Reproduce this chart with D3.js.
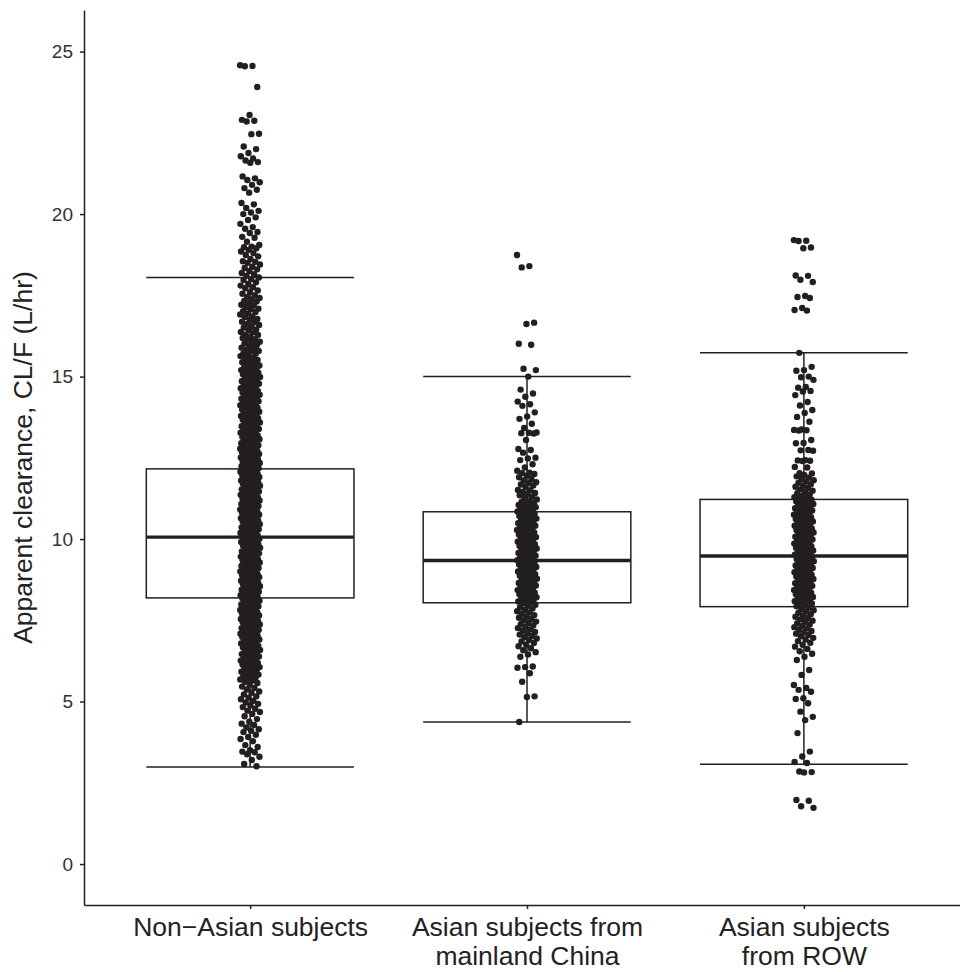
<!DOCTYPE html>
<html>
<head>
<meta charset="utf-8">
<script src="https://cdn.jsdelivr.net/npm/d3@7"></script>
<style>
body { margin: 0; background: #fff; }
svg { display: block; font-family: "Liberation Sans", Arial, sans-serif; }
</style>
</head>
<body>
<svg id="chart" width="960" height="972"></svg>
<script>
var groups = ["nonasian", "china", "row"];
var groupLabels = [["Non\u2212Asian subjects"], ["Asian subjects from", "mainland China"], ["Asian subjects", "from ROW"]];
var yTicks = [0, 5, 10, 15, 20, 25];

// box stats
var whiskerLo = [2.99, 4.37, 3.07];
var q1 = [8.19, 8.04, 7.92];
var medians = [10.06, 9.34, 9.48];
var q3 = [12.16, 10.84, 11.22];
var whiskerHi = [18.05, 15.0, 15.73];

// CL/F per subject (estimated from the jittered points)
var clNonAsian = [
  24.58,24.56,24.55,23.91,23.05,22.90,22.87,22.85,22.47,22.46,22.08,22.00,21.88,21.78,21.71,21.65,21.60,21.58,
  21.16,21.10,21.05,20.98,20.90,20.80,20.75,20.66,20.34,20.30,20.19,20.10,20.05,20.00,19.90,19.82,19.70,19.60,
  19.55,19.45,19.42,19.30,19.27,19.15,19.05,19.00,18.98,18.95,18.90,18.85,18.80,18.74,18.70,18.62,18.55,18.53,
  18.50,18.45,18.38,18.34,18.30,18.25,18.19,18.15,18.10,18.05,18.00,17.97,17.90,17.85,17.80,17.75,17.72,17.65,
  17.60,17.55,17.50,17.45,17.42,
  17.37,17.33,17.31,17.26,17.21,17.19,17.14,17.09,17.07,17.01,16.99,16.94,16.91,16.85,16.83,16.77,16.75,16.69,
  16.67,16.61,16.59,16.54,16.51,16.45,16.43,16.37,16.36,16.29,16.28,16.22,16.19,16.15,16.13,16.07,16.04,16.02,
  15.97,15.95,15.89,15.88,15.82,15.79,15.77,15.71,15.70,15.64,15.63,15.57,15.56,15.51,15.49,15.44,15.41,15.39,
  15.34,15.31,
  15.28,15.26,15.23,15.20,15.18,15.15,15.12,15.10,15.07,15.04,15.02,14.99,14.96,14.94,14.91,14.88,14.86,14.83,
  14.80,14.78,14.75,14.72,14.70,14.67,14.64,14.62,14.59,14.56,14.54,14.51,
  14.49,14.47,14.44,14.42,14.39,14.37,14.34,14.32,14.29,14.27,14.24,14.22,14.19,14.17,14.14,14.12,14.09,14.07,
  14.04,14.02,13.99,13.97,13.94,13.92,13.89,13.87,13.84,13.82,13.79,13.77,13.74,13.72,13.69,13.67,13.64,13.62,
  13.59,13.57,13.54,13.52,13.49,13.47,13.44,13.42,13.39,13.37,13.34,13.32,13.29,13.27,13.24,13.22,13.19,13.17,
  13.14,13.12,13.09,13.07,13.04,13.02,
  12.99,12.97,12.95,12.93,12.90,12.89,12.86,12.84,12.83,12.80,12.78,12.77,12.74,12.72,12.70,12.68,12.66,12.63,
  12.62,12.60,12.57,12.55,12.54,12.51,12.49,12.47,12.45,12.43,12.40,12.39,12.36,12.34,12.33,12.30,12.28,12.26,
  12.24,12.22,12.19,12.18,12.15,12.13,12.12,12.09,12.07,12.05,12.03,12.01,
  11.99,11.97,11.94,11.93,11.91,11.88,11.86,11.85,11.82,11.80,11.78,11.76,11.74,11.71,11.70,11.67,11.65,11.64,
  11.61,11.59,11.57,11.55,11.53,11.50,11.49,11.46,11.44,11.43,11.40,11.38,11.36,11.34,11.32,11.29,11.28,11.25,
  11.23,11.21,11.19,11.17,11.14,11.13,11.10,11.08,11.06,11.04,11.02,11.00,
  10.98,10.96,10.94,10.91,10.90,10.87,10.85,10.83,10.81,10.79,10.76,10.75,10.72,10.70,10.68,10.66,10.64,10.61,
  10.60,10.57,10.55,10.53,10.51,10.49,10.46,10.45,10.42,10.40,10.38,10.36,10.34,10.31,10.30,10.27,10.25,10.23,
  10.21,10.19,10.16,10.15,10.12,10.10,10.08,10.06,10.04,10.01,
  9.99,9.97,9.95,9.92,9.91,9.88,9.86,9.84,9.82,9.80,9.77,9.76,9.73,9.71,9.69,9.67,9.65,9.62,9.61,9.58,9.56,9.54,
  9.52,9.50,9.47,9.46,9.43,9.41,9.39,9.37,9.35,9.32,9.31,9.28,9.26,9.24,9.22,9.20,9.17,9.16,9.13,9.11,9.09,9.07,
  9.05,9.02,9.00,
  8.98,8.96,8.93,8.92,8.89,8.87,8.85,8.83,8.81,8.78,8.77,8.74,8.72,8.70,8.68,8.66,8.63,8.62,8.59,8.57,8.55,8.53,
  8.51,8.48,8.47,8.44,8.42,8.40,8.38,8.36,8.33,8.32,8.29,8.27,8.25,8.23,8.21,8.18,8.17,8.14,8.12,8.10,8.08,8.06,
  8.03,8.02,
  7.99,7.97,7.95,7.93,7.90,7.89,7.86,7.84,7.82,7.80,7.78,7.75,7.74,7.71,7.69,7.67,7.65,7.63,7.60,7.59,7.56,7.54,
  7.52,7.50,7.48,7.45,7.44,7.41,7.39,7.37,7.35,7.33,7.30,7.29,7.26,7.24,7.22,7.20,7.18,7.15,7.14,7.11,7.09,7.07,
  7.05,7.03,7.01,
  6.99,6.96,6.94,6.91,6.89,6.86,6.84,6.81,6.79,6.76,6.74,6.71,6.69,6.66,6.64,6.61,6.59,6.56,6.54,6.51,6.49,6.46,
  6.44,6.41,6.39,6.36,6.34,6.31,6.29,6.26,6.24,6.21,6.19,6.16,6.14,6.11,6.09,6.06,6.04,6.01,
  5.98,5.95,5.92,5.88,5.86,5.83,5.79,5.77,5.74,5.70,5.68,5.65,5.61,
  5.57,5.52,5.46,5.42,5.37,5.31,5.27,5.22,5.16,5.12,5.07,5.02,
  4.97,4.93,4.88,4.83,4.78,4.72,4.68,4.62,4.55,4.46,4.38,4.32,4.28,4.20,4.15,4.10,4.06,3.98,3.91,3.85,3.78,3.66,
  3.60,3.50,3.46,3.44,3.38,3.30,3.20,3.08,3.01
];

var clChina = [
  18.74,18.40,18.36,16.66,16.62,16.01,15.98,15.24,15.20,15.00,14.60,14.48,14.38,14.23,14.15,14.10,13.90,13.77,
  13.70,13.55,13.42,13.28,13.27,13.26,13.25,13.05,12.77,12.74,12.66,12.50,12.48,12.43,12.30,12.20,12.10,12.04,
  12.03,12.00,11.95,11.90,11.85,11.80,11.75,11.72,11.68,11.65,11.60,11.51,11.50,11.45,11.42,11.38,11.35,11.30,
  11.27,11.22,11.18,11.14,11.10,11.08,11.05,11.03,11.00,
  10.98,10.95,10.93,10.90,10.87,10.85,10.82,10.79,10.77,10.74,10.71,10.68,10.66,10.63,10.60,10.58,10.55,10.52,
  10.49,10.47,10.44,10.41,10.39,10.36,10.33,10.30,10.28,10.25,10.22,10.20,10.17,10.14,10.11,10.09,10.06,10.03,
  10.01,9.98,9.95,9.92,9.90,9.87,9.84,9.82,9.79,9.76,9.73,9.71,9.68,9.65,9.63,9.60,9.57,9.54,9.52,9.49,9.46,9.44,
  9.41,9.38,9.35,9.33,9.30,9.27,9.25,9.22,9.19,9.16,9.14,9.11,9.08,9.06,9.03,9.00,8.97,8.95,8.92,8.89,8.87,8.84,
  8.81,8.78,8.76,8.73,8.70,8.68,8.65,8.62,8.59,8.57,8.54,8.51,8.49,8.46,8.43,8.40,8.38,8.35,8.32,8.30,8.27,8.24,
  8.21,8.19,8.16,8.13,8.11,8.08,8.05,8.02,
  7.98,7.94,7.90,7.86,7.82,7.78,7.74,7.70,7.66,7.62,7.58,7.54,7.50,7.46,7.42,7.38,7.34,7.30,7.26,7.22,7.18,7.14,
  7.10,7.06,7.02,6.98,6.94,6.90,6.85,6.80,6.75,6.70,6.64,6.58,6.52,6.45,6.38,
  6.08,6.06,6.04,5.87,5.61,5.16,5.14,4.37
];

var clRow = [
  19.20,19.18,19.17,18.97,18.95,18.11,18.10,17.98,17.91,17.48,17.45,17.42,17.11,17.05,17.03,15.73,15.30,15.20,
  15.18,15.00,14.98,14.90,14.68,14.66,14.56,14.54,14.43,14.22,14.11,13.97,13.88,13.76,13.61,13.37,13.36,13.35,
  13.34,13.05,12.96,12.95,12.74,12.73,12.72,12.43,12.42,12.41,12.40,12.22,12.20,12.03,12.02,
  11.97,11.93,11.89,11.85,11.81,11.77,11.73,11.69,11.65,11.61,11.57,11.53,11.49,11.45,11.41,11.37,11.33,
  11.29,11.27,11.24,11.21,11.19,11.16,11.14,11.11,11.08,11.06,11.03,11.01,10.98,10.95,10.93,10.90,10.88,10.85,
  10.82,10.80,10.77,10.75,10.72,10.69,10.67,10.64,10.62,10.59,10.56,10.54,10.51,10.49,10.46,10.43,10.41,10.38,
  10.36,10.33,10.30,10.28,10.25,10.23,10.20,10.17,10.15,10.12,10.10,10.07,10.04,10.02,9.99,9.97,9.94,9.91,9.89,
  9.86,9.84,9.81,9.78,9.76,9.73,9.71,9.68,9.65,9.63,9.60,9.58,9.55,9.52,9.50,9.47,9.45,9.42,9.39,9.37,9.34,9.32,
  9.29,9.26,9.24,9.21,9.19,9.16,9.13,9.11,9.08,9.06,9.03,9.00,8.98,8.95,8.93,8.90,8.87,8.85,8.82,8.80,8.77,8.74,
  8.72,8.69,8.67,8.64,8.61,8.59,8.56,8.54,8.51,8.48,8.46,8.43,8.41,8.38,8.35,8.33,8.30,8.28,8.25,8.22,8.20,8.17,
  8.15,8.12,8.09,8.07,8.04,8.02,
  7.97,7.93,7.89,7.85,7.81,7.77,7.73,7.69,7.65,7.61,7.57,7.53,7.49,7.45,7.41,7.37,7.33,7.29,7.25,7.21,7.17,7.13,
  7.09,7.05,7.01,6.96,6.91,6.86,6.81,6.75,6.69,6.62,6.55,6.47,6.38,6.28,
  5.97,5.82,5.51,5.42,5.36,5.30,5.10,5.08,4.95,4.69,4.53,4.43,4.03,3.46,3.31,3.14,3.11,2.85,2.83,2.82,1.97,1.95,
  1.78,1.73
];

var series = [clNonAsian, clChina, clRow];

var svg = d3.select("#chart");
var ink = "#231f20";

var x = d3.scalePoint().domain(groups).range([84, 970]).padding(0.6);
var y = d3.scaleLinear().domain([-1.26, 26.28]).range([905, 10]);
var boxW = x.step() * 0.75;

// spread points sideways without randomness
function jitter(i) {
    return ((i * 0.6180339887) % 1 - 0.5) * 20;
}

var boxes = svg.append("g");
groups.forEach(function(g, i) {
    var cx = x(g);
    var b = boxes.append("g")
        .attr("stroke", ink)
        .attr("fill", "none");
    // whisker line
    b.append("line")
        .attr("x1", cx).attr("x2", cx)
        .attr("y1", y(whiskerLo[i])).attr("y2", y(whiskerHi[i]))
        .attr("stroke-width", 1.5);
    // caps
    [whiskerLo[i], whiskerHi[i]].forEach(function(v) {
        b.append("line")
            .attr("x1", cx - boxW / 2).attr("x2", cx + boxW / 2)
            .attr("y1", y(v)).attr("y2", y(v))
            .attr("stroke-width", 1.5);
    });
    b.append("rect")
        .attr("x", cx - boxW / 2)
        .attr("y", y(q3[i]))
        .attr("width", boxW)
        .attr("height", y(q1[i]) - y(q3[i]))
        .attr("fill", "#fff")
        .attr("stroke-width", 1.5);
    b.append("line")
        .attr("x1", cx - boxW / 2).attr("x2", cx + boxW / 2)
        .attr("y1", y(medians[i])).attr("y2", y(medians[i]))
        .attr("stroke-width", 3.4);
});

var pts = svg.append("g").attr("fill", ink);
groups.forEach(function(g, i) {
    pts.selectAll(null)
        .data(series[i])
        .enter().append("circle")
        .attr("cx", function(d, j) { return x(g) + jitter(j); })
        .attr("cy", function(d) { return y(d); })
        .attr("r", 3.2);
});

// y axis
var yAxis = svg.append("g")
    .attr("transform", "translate(84,0)")
    .call(d3.axisLeft(y).tickValues(yTicks).tickSize(4).tickPadding(7).tickSizeOuter(0));
yAxis.select(".domain").attr("stroke", ink).attr("stroke-width", 1.5);
yAxis.selectAll(".tick line").attr("stroke", ink).attr("stroke-width", 1.5);
yAxis.selectAll(".tick text")
    .attr("fill", "#333")
    .style("font-size", "19px")
    .style("font-family", "'Liberation Sans', Arial, sans-serif");

// x axis
var xAxis = svg.append("g")
    .attr("transform", "translate(0,905)")
    .call(d3.axisBottom(x).tickSize(4).tickSizeOuter(0));
xAxis.select(".domain").attr("stroke", ink).attr("stroke-width", 1.5);
xAxis.selectAll(".tick line").attr("stroke", ink).attr("stroke-width", 1.5);
xAxis.selectAll(".tick text").remove();
xAxis.selectAll(".tick").each(function(g, i) {
    var t = d3.select(this).append("text")
        .attr("fill", "#222")
        .attr("text-anchor", "middle")
        .style("font-size", "26.5px")
        .style("font-family", "'Liberation Sans', Arial, sans-serif");
    groupLabels[i].forEach(function(line, k) {
        t.append("tspan").attr("x", 0).attr("y", 31 + k * 29).text(line);
    });
});

// y title
svg.append("text")
    .attr("transform", "translate(32," + ((10 + 905) / 2) + ") rotate(-90)")
    .attr("text-anchor", "middle")
    .attr("fill", "#222")
    .style("font-size", "26.5px")
    .text("Apparent clearance, CL/F (L/hr)");
</script>
</body>
</html>
